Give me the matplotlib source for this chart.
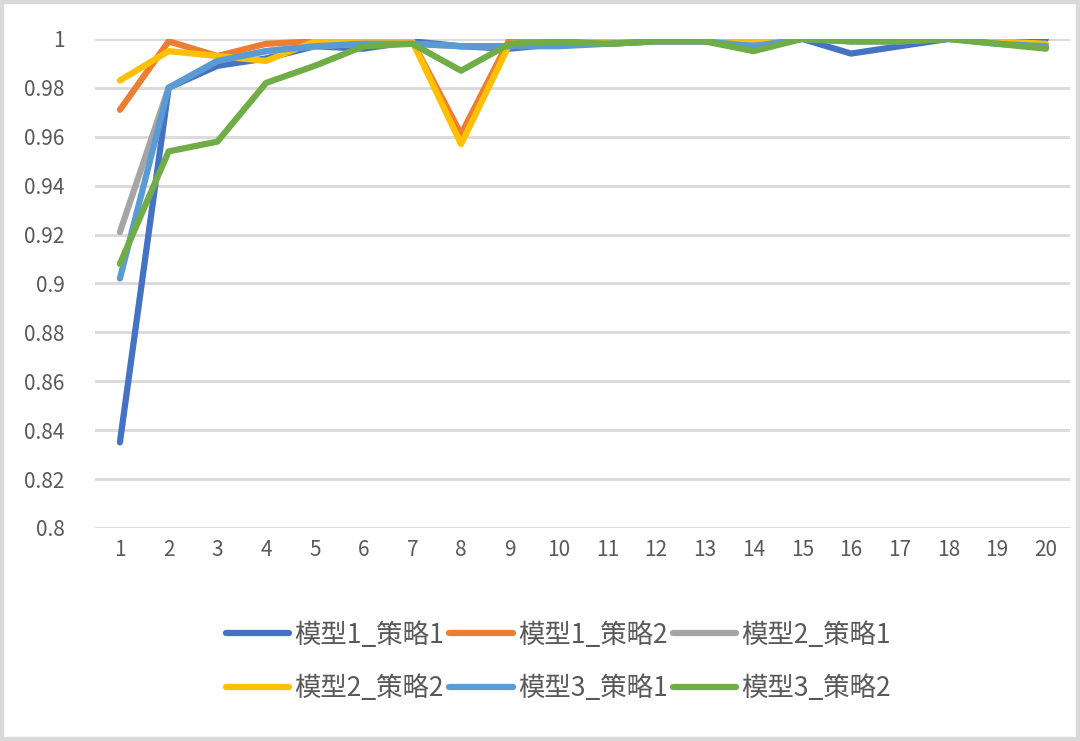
import numpy as np
import matplotlib
matplotlib.use('Agg')
import matplotlib.pyplot as plt
from matplotlib.patches import Rectangle

plt.rcParams['font.family'] = ['Noto Sans CJK SC', 'DejaVu Sans']

epochs = list(range(1, 21))

m1_s1 = [0.835, 0.980, 0.989, 0.992, 0.997, 0.996, 0.999, 0.997, 0.996, 0.998,
         0.998, 0.999, 0.999, 0.999, 1.000, 0.994, 0.997, 1.000, 1.000, 1.000]
m1_s2 = [0.971, 0.999, 0.993, 0.998, 0.999, 0.999, 0.999, 0.961, 1.000, 1.000,
         1.000, 1.000, 1.000, 1.000, 1.000, 1.000, 1.000, 1.000, 0.999, 0.997]
m2_s1 = [0.921, 0.980, 0.991, 0.995, 0.997, 0.998, 0.998, 0.997, 0.997, 0.998,
         0.998, 0.999, 0.999, 0.998, 1.000, 0.999, 0.999, 1.000, 0.999, 0.997]
m2_s2 = [0.983, 0.995, 0.993, 0.991, 0.999, 0.999, 0.999, 0.957, 0.998, 0.999,
         0.999, 1.000, 1.000, 1.000, 1.000, 1.000, 1.000, 1.000, 0.999, 0.998]
m3_s1 = [0.902, 0.980, 0.991, 0.995, 0.997, 0.998, 0.998, 0.997, 0.997, 0.997,
         0.998, 0.999, 0.999, 0.997, 1.000, 0.999, 0.999, 1.000, 0.998, 0.997]
m3_s2 = [0.908, 0.954, 0.958, 0.982, 0.989, 0.997, 0.998, 0.987, 0.998, 0.999,
         0.998, 0.999, 0.999, 0.995, 1.000, 0.999, 0.999, 1.000, 0.998, 0.996]

series = [m1_s1, m1_s2, m2_s1, m2_s2, m3_s1, m3_s2]
labels = ['模型1_策略1', '模型1_策略2', '模型2_策略1',
          '模型2_策略2', '模型3_策略1', '模型3_策略2']
colors = ['#4472C4', '#ED7D31', '#A5A5A5', '#FFC000', '#5B9BD5', '#70AD47']
yticks = np.round(np.arange(0.8, 1.0001, 0.02), 2)

fig = plt.figure(figsize=(10.8, 7.41), dpi=100)
ax = fig.add_axes([0.088, 0.2875, 0.903, 0.66])

lines = []
for vals, lab, col in zip(series, labels, colors):
    ln, = ax.plot(epochs, vals, color=col, lw=4.5, label=lab,
                  solid_capstyle='round', solid_joinstyle='round')
    lines.append(ln)

ax.set_xlim(0.49, 20.5)
ax.set_ylim(0.8, 1.0)
ax.set_yticks(yticks)
ax.set_yticklabels([f'{v:g}' for v in yticks])
ax.set_xticks(epochs)
ax.grid(axis='y', color='#D9D9D9', lw=2)
ax.set_axisbelow(True)
for s in ax.spines.values():
    s.set_visible(False)
ax.tick_params(length=0, labelsize=15, colors='#595959', pad=8)
ax.tick_params(axis='y', pad=22)

# legend order: rows of three
order = [0, 3, 1, 4, 2, 5]
leg = fig.legend([lines[i] for i in order], [labels[i] for i in order],
                 loc='center', bbox_to_anchor=(0.517, 0.107), ncol=3,
                 frameon=False, fontsize=19, handlelength=2.4,
                 handletextpad=0.2, columnspacing=0.2, labelspacing=1.0)
for t in leg.get_texts():
    t.set_color('#595959')

fig.patches.append(Rectangle((0, 0), 1, 1, transform=fig.transFigure,
                             fill=False, edgecolor='#D9D9D9', lw=6))

fig.savefig('out.png', dpi=100)
